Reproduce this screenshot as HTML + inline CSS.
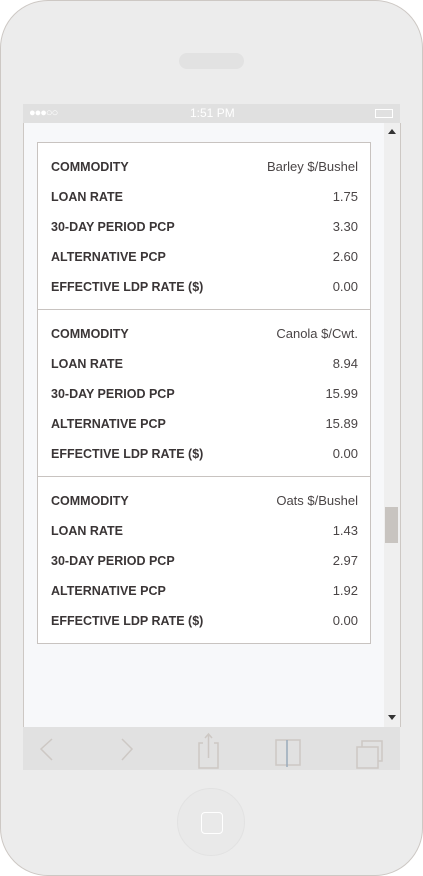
<!DOCTYPE html>
<html><head><meta charset="utf-8"><style>
*{margin:0;padding:0;box-sizing:border-box}
body{width:423px;height:876px;background:#fff;position:relative;overflow:hidden;font-family:"Liberation Sans",sans-serif}
.abs{position:absolute}
.row{position:absolute;left:13px;right:12px;height:30px;line-height:30px;display:flex;justify-content:space-between;align-items:baseline;font-size:12.5px}
.lab{font-weight:bold;color:#3a3536}
.val{color:#4a4546;font-size:13px}
</style></head><body>
<div class="abs" style="left:0;top:0;width:423px;height:876px;background:#ececec;border:1.5px solid #cdc8c4;border-radius:48px"></div>
<div class="abs" style="left:179px;top:53px;width:65px;height:16px;background:#e2e2e2;border-radius:8px"></div>
<div class="abs" style="left:23px;top:104px;width:377px;height:19px;background:#e0e0e0;color:#fff;font-size:12px">
<span class="abs" style="left:6px;top:3px;font-size:11px;letter-spacing:-1px">●●●○○</span>
<span class="abs" style="left:167px;top:2px">1:51 PM</span>
<span class="abs" style="left:352px;top:5px;width:18px;height:9px;border:1.5px solid #fff"></span>
</div>
<div class="abs" style="left:23px;top:123px;width:378px;height:604px;background:#f7f8fa;border-left:1px solid #cdc8c4;border-right:1px solid #cdc8c4"></div>
<div class="abs" style="left:384px;top:123px;width:16px;height:604px;background:#efefef">
<div class="abs" style="left:4px;top:6px;border-left:4px solid transparent;border-right:4px solid transparent;border-bottom:5px solid #333"></div>
<div class="abs" style="left:1px;top:384px;width:13px;height:36px;background:#c8c4c0"></div>
<div class="abs" style="left:4px;top:592px;border-left:4px solid transparent;border-right:4px solid transparent;border-top:5px solid #333"></div>
</div>
<div class="abs" style="left:37px;top:142px;width:334px;height:502px;background:#fff;border:1px solid #c8c3c0">
<div class="abs" style="left:0;top:9px;width:100%;height:158px">
<div class="row" style="top:0"><span class="lab">COMMODITY</span><span class="val">Barley $/Bushel</span></div>
<div class="row" style="top:30px"><span class="lab">LOAN RATE</span><span class="val">1.75</span></div>
<div class="row" style="top:60px"><span class="lab">30-DAY PERIOD PCP</span><span class="val">3.30</span></div>
<div class="row" style="top:90px"><span class="lab">ALTERNATIVE PCP</span><span class="val">2.60</span></div>
<div class="row" style="top:120px"><span class="lab">EFFECTIVE LDP RATE ($)</span><span class="val">0.00</span></div>
</div>
<div class="abs" style="left:0;top:166px;width:100%;height:1px;background:#c8c3c0"></div>
<div class="abs" style="left:0;top:176px;width:100%;height:158px">
<div class="row" style="top:0"><span class="lab">COMMODITY</span><span class="val">Canola $/Cwt.</span></div>
<div class="row" style="top:30px"><span class="lab">LOAN RATE</span><span class="val">8.94</span></div>
<div class="row" style="top:60px"><span class="lab">30-DAY PERIOD PCP</span><span class="val">15.99</span></div>
<div class="row" style="top:90px"><span class="lab">ALTERNATIVE PCP</span><span class="val">15.89</span></div>
<div class="row" style="top:120px"><span class="lab">EFFECTIVE LDP RATE ($)</span><span class="val">0.00</span></div>
</div>
<div class="abs" style="left:0;top:333px;width:100%;height:1px;background:#c8c3c0"></div>
<div class="abs" style="left:0;top:343px;width:100%;height:158px">
<div class="row" style="top:0"><span class="lab">COMMODITY</span><span class="val">Oats $/Bushel</span></div>
<div class="row" style="top:30px"><span class="lab">LOAN RATE</span><span class="val">1.43</span></div>
<div class="row" style="top:60px"><span class="lab">30-DAY PERIOD PCP</span><span class="val">2.97</span></div>
<div class="row" style="top:90px"><span class="lab">ALTERNATIVE PCP</span><span class="val">1.92</span></div>
<div class="row" style="top:120px"><span class="lab">EFFECTIVE LDP RATE ($)</span><span class="val">0.00</span></div>
</div>
</div>
<div class="abs" style="left:23px;top:727px;width:377px;height:43px;background:#e1e1e1">
<svg width="377" height="43" style="position:absolute;left:0;top:0" fill="none" stroke="#cdc8c4" stroke-width="1.5">
<path d="M29 12 L18 22 L29 33"/>
<path d="M99 12 L109 22 L99 33"/>
<g><path d="M180 16 H176 V41 H195 V16 H191"/><path d="M185.5 31 V7 M182 11 L185.5 7 L189 11"/></g>
<g><rect x="253" y="13" width="24" height="25"/><path d="M264 13 V40" stroke="#9ab"/></g>
<g><rect x="334" y="20" width="21" height="21"/><path d="M339 20 V14 H359 V34 H355"/></g>
</svg>
</div>
<div class="abs" style="left:177px;top:788px;width:68px;height:68px;border-radius:50%;background:#e9e9e9;border:1px solid #e2e2e2">
<div class="abs" style="left:23px;top:23px;width:22px;height:22px;border:1.5px solid #fff;border-radius:4px"></div>
</div>
</body></html>
